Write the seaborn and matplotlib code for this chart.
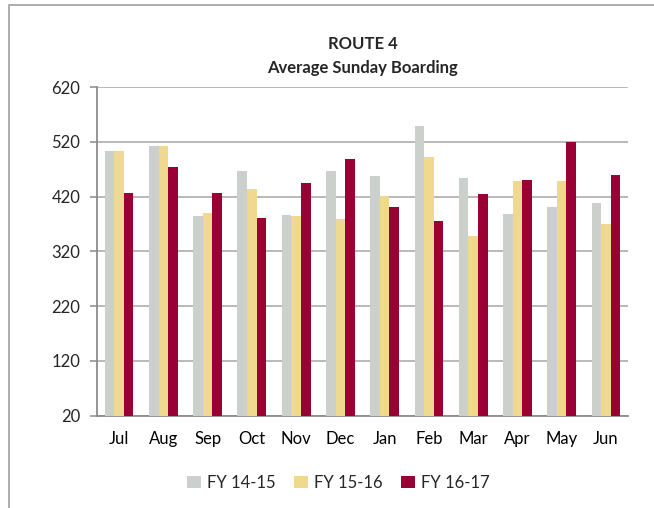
import pandas as pd
import matplotlib.pyplot as plt
import seaborn as sns
from matplotlib.patches import Rectangle

months = ['Jul', 'Aug', 'Sep', 'Oct', 'Nov', 'Dec', 'Jan', 'Feb', 'Mar', 'Apr', 'May', 'Jun']
fy_14_15 = [504, 512, 384, 467, 387, 467, 458, 549, 453, 388, 401, 409]
fy_15_16 = [504, 512, 390, 433, 384, 379, 421, 492, 348, 448, 448, 370]
fy_16_17 = [427, 474, 426, 381, 444, 488, 400, 376, 424, 450, 520, 460]
series_names = ['FY 14-15', 'FY 15-16', 'FY 16-17']
colors = ['#CBD0CC', '#EFD98E', '#990033']
y_ticks = [20, 120, 220, 320, 420, 520, 620]


def build_frame():
    rows = []
    for name, vals in zip(series_names, [fy_14_15, fy_15_16, fy_16_17]):
        for m, v in zip(months, vals):
            rows.append({'Month': m, 'Series': name, 'Boarding': v})
    return pd.DataFrame(rows)


def main():
    data = build_frame()
    sns.set_style('white')
    plt.rcParams['font.family'] = ['Lato', 'DejaVu Sans']

    fig = plt.figure(figsize=(6.54, 5.08), dpi=100)
    ax = fig.add_axes([0.1483, 0.182, 0.812, 0.6467])

    sns.barplot(data=data, x='Month', y='Boarding', hue='Series', order=months,
                hue_order=series_names, palette=colors, width=0.65, gap=0,
                saturation=1, ax=ax, zorder=3, linewidth=0)

    ax.set_ylim(20, 620)
    ax.set_xlim(-0.5, 11.5)
    ax.set_yticks(y_ticks)
    ax.set_xlabel('')
    ax.set_ylabel('')
    ax.yaxis.grid(True, color='#A6A6A6', linewidth=1.1, zorder=0)
    ax.set_axisbelow(True)

    for side in ['top', 'right']:
        ax.spines[side].set_visible(False)
    for side in ['left', 'bottom']:
        ax.spines[side].set_color('#8C8C8C')
        ax.spines[side].set_linewidth(1.3)

    # category boundary ticks on x, labels centred
    ax.set_xticks([i - 0.5 for i in range(13)], minor=True)
    ax.tick_params(axis='x', which='major', length=0, labelsize=12, pad=11, colors='black')
    ax.tick_params(axis='x', which='minor', length=5, width=1.1, color='#8C8C8C')
    ax.tick_params(axis='y', which='major', length=5, width=1.1, color='#8C8C8C',
                   labelsize=12, pad=7, left=True)

    ax.set_title('ROUTE 4\nAverage Sunday Boarding', fontsize=12, fontweight='bold',
                 pad=10, linespacing=1.65)

    handles, labels = ax.get_legend_handles_labels()
    ax.legend(handles, labels, loc='center', bbox_to_anchor=(0.455, -0.205), ncol=3,
              frameon=False, fontsize=12, handlelength=0.8, handleheight=0.8,
              handletextpad=0.4, columnspacing=1.1)

    # outer chart border
    fig.patches.append(Rectangle((9 / 654, -0.1), 1.2, 1 - 5 / 508 + 0.1,
                                 transform=fig.transFigure, fill=False,
                                 edgecolor='#A0A0A0', linewidth=1.2))

    fig.savefig('out.png', dpi=100)


if __name__ == "__main__":
    main()
